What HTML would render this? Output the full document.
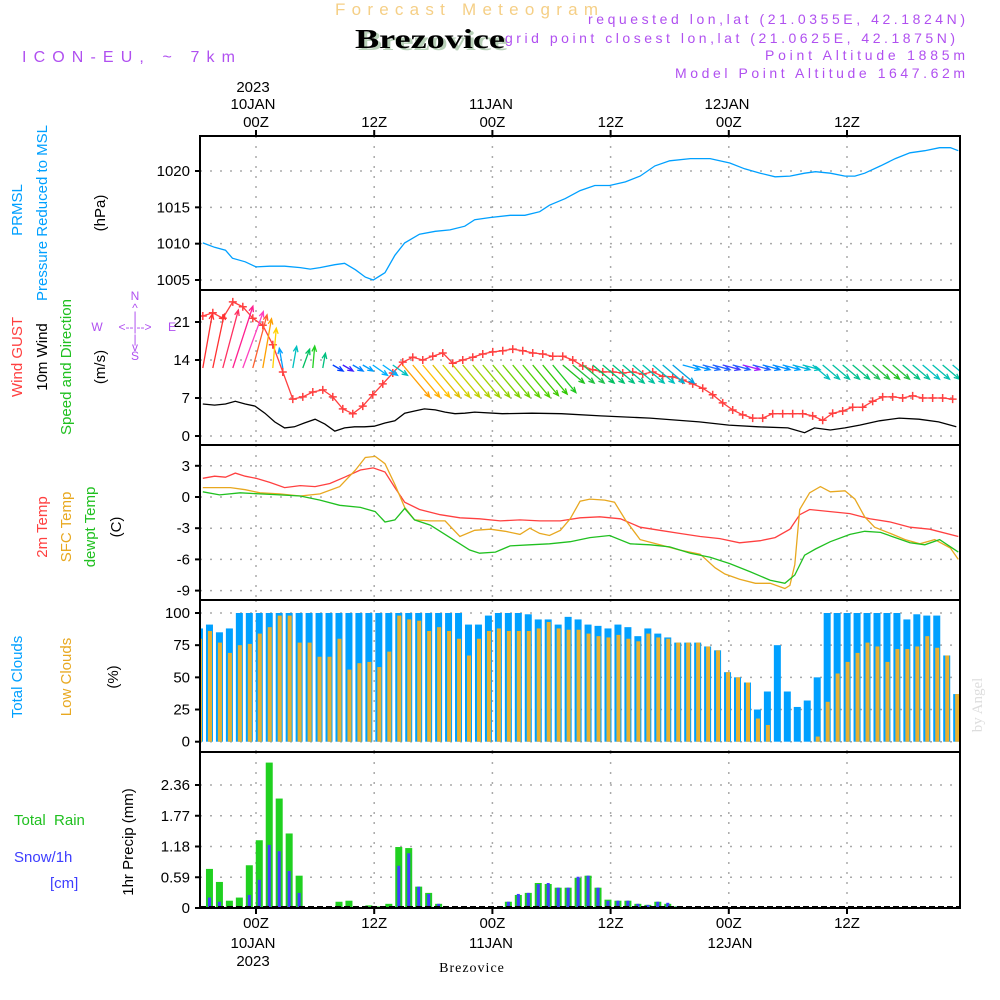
<!DOCTYPE html>
<html><head><meta charset="utf-8"><style>
html,body{margin:0;padding:0;background:#fff;}
svg{display:block;font-family:"Liberation Sans",sans-serif;}
</style></head><body>
<svg id="chart" width="1000" height="1000" viewBox="0 0 1000 1000" xmlns="http://www.w3.org/2000/svg">
<rect width="1000" height="1000" fill="#fff"/>
<text x="335" y="15" font-size="17" fill="#f5cf86" textLength="263" lengthAdjust="spacing">Forecast Meteogram</text>
<text x="358" y="50" font-size="27" font-weight="bold" font-family="Liberation Serif,serif" fill="#b8d0b8" textLength="150" lengthAdjust="spacingAndGlyphs">Brezovice</text>
<text x="355" y="48" font-size="27" font-weight="bold" font-family="Liberation Serif,serif" fill="#000" textLength="150" lengthAdjust="spacingAndGlyphs">Brezovice</text>
<g fill="#b050f0" font-size="14">
<text x="588" y="24" textLength="377" lengthAdjust="spacing">requested lon,lat (21.0355E, 42.1824N)</text>
<text x="505" y="43" textLength="450" lengthAdjust="spacing">grid point closest lon,lat (21.0625E, 42.1875N)</text>
<text x="765" y="60" textLength="200" lengthAdjust="spacing">Point Altitude 1885m</text>
<text x="675" y="78" textLength="290" lengthAdjust="spacing">Model Point Altitude 1647.62m</text>
</g>
<text x="22" y="62" font-size="16" fill="#b050f0" textLength="213" lengthAdjust="spacing">ICON-EU, ~ 7km</text>
<g id="plot"></g>
<g font-size="15" text-anchor="middle" fill="#000">
<text x="253" y="92">2023</text>
<text x="253" y="109">10JAN</text>
<text x="491" y="109">11JAN</text>
<text x="727" y="109">12JAN</text>
<text x="253" y="948">10JAN</text>
<text x="491" y="948">11JAN</text>
<text x="730" y="948">12JAN</text>
<text x="253" y="966">2023</text>
</g>
<text x="472" y="972" font-size="14" font-family="Liberation Serif,serif" text-anchor="middle" letter-spacing="1">Brezovice</text>
<g font-size="15">
<text transform="translate(22,210) rotate(-90)" fill="#00a0ff" text-anchor="middle">PRMSL</text>
<text transform="translate(47,213) rotate(-90)" fill="#00a0ff" text-anchor="middle">Pressure Reduced to MSL</text>
<text transform="translate(105,213) rotate(-90)" fill="#000" text-anchor="middle">(hPa)</text>
<text transform="translate(22,357) rotate(-90)" fill="#ff4040" text-anchor="middle">Wind GUST</text>
<text transform="translate(47,357) rotate(-90)" fill="#000" text-anchor="middle">10m Wind</text>
<text transform="translate(71,367) rotate(-90)" fill="#20c020" text-anchor="middle">Speed and Direction</text>
<text transform="translate(105,367) rotate(-90)" fill="#000" text-anchor="middle">(m/s)</text>
<text transform="translate(47,527) rotate(-90)" fill="#ff4040" text-anchor="middle">2m Temp</text>
<text transform="translate(71,527) rotate(-90)" fill="#e8a820" text-anchor="middle">SFC Temp</text>
<text transform="translate(95,527) rotate(-90)" fill="#20c020" text-anchor="middle">dewpt Temp</text>
<text transform="translate(121,527) rotate(-90)" fill="#000" text-anchor="middle">(C)</text>
<text transform="translate(22,677) rotate(-90)" fill="#00a0ff" text-anchor="middle">Total Clouds</text>
<text transform="translate(71,677) rotate(-90)" fill="#e8a820" text-anchor="middle">Low Clouds</text>
<text transform="translate(118,677) rotate(-90)" fill="#000" text-anchor="middle">(%)</text>
<text transform="translate(133,842) rotate(-90)" fill="#000" text-anchor="middle">1hr Precip (mm)</text>
<text x="14" y="825" fill="#20c020" xml:space="preserve">Total  Rain</text>
<text x="14" y="862" fill="#3d3dff">Snow/1h</text>
<text x="50" y="888" fill="#3d3dff">[cm]</text>
</g>
<g fill="#b050f0" font-size="12" text-anchor="middle">
<text x="135" y="300">N</text><text x="135" y="312">^</text><text x="135" y="320">|</text>
<text x="135" y="331">&lt;--|--&gt;</text>
<text x="97" y="331">W</text><text x="172" y="331">E</text>
<text x="135" y="343">|</text><text x="135" y="351">v</text><text x="135" y="360">S</text>
</g>
<text transform="translate(982,705) rotate(-90)" font-size="15" font-family="Liberation Serif,serif" fill="#ddd" text-anchor="middle">by Angel</text>
</svg>
<script>
// ---------- data ----------
const presHours=[-5.4,-4.2,-3.1,-2.4,-1.1,0,1.4,2.9,4.5,5.5,6.5,8.0,9.0,10.1,11.1,11.9,13.1,14.1,15.1,16.6,18.2,19.7,21.2,22.2,23.8,25.8,27.3,28.8,29.8,31.4,32.9,34.4,35.9,37.5,39.0,40.5,42.0,44.1,46.1,48.1,49.6,51.2,52.7,54.2,55.7,56.8,58.3,59.8,60.8,61.8,63.4,64.9,66.4,67.9,69.4,70.5,71.3];
const presVals=[1010.1,1009.5,1009.1,1008.0,1007.5,1006.8,1006.9,1006.9,1006.7,1006.5,1006.7,1007.1,1007.3,1006.4,1005.4,1005.0,1006.0,1008.4,1010.1,1011.3,1011.7,1011.9,1012.4,1013.3,1013.6,1013.9,1013.9,1014.4,1015.3,1016.2,1017.3,1018.0,1018.0,1018.5,1019.3,1020.7,1021.4,1021.7,1021.7,1021.1,1020.3,1019.7,1019.2,1019.3,1019.7,1019.9,1019.7,1019.3,1019.3,1019.7,1020.7,1021.7,1022.5,1022.8,1023.2,1023.2,1022.8];
const presTicks=[1005,1010,1015,1020];

const gustVals=[22.1,22.7,21.7,24.7,23.8,21.7,20.4,16.8,11.8,6.8,7.2,8.1,8.5,7.2,5.0,4.1,5.5,7.6,9.6,11.6,13.6,14.5,14.0,14.7,15.3,13.4,14.0,14.5,15.1,15.5,15.7,16.0,15.7,15.3,15.1,14.7,14.7,14.0,12.9,12.2,11.8,11.8,11.6,11.8,11.4,11.8,11.0,10.9,10.3,9.6,8.8,7.6,6.1,4.8,3.9,3.3,3.3,4.1,4.1,4.1,4.1,3.7,2.9,4.2,4.6,5.3,5.3,6.4,7.2,7.2,7.0,7.4,7.0,7.0,7.0,6.8];
const windHours=[-5.4,-4.2,-3.1,-2.1,-1.1,-0.1,0.9,1.9,2.9,3.9,4.9,6.0,7.0,8.0,9.0,10.0,11.0,12.0,13.1,14.1,15.1,16.1,17.1,18.2,19.2,20.2,21.2,22.2,25,28,31,35,40,45,48,51,54,55.7,56.7,58.3,59.8,61.3,63.3,65.3,67.3,69.3,71.1];
const windVals=[5.9,5.7,5.9,6.4,5.9,5.5,4.2,2.6,1.5,1.7,2.4,3.1,2.2,0.9,1.5,1.7,1.7,1.8,2.4,2.8,4.2,4.6,5.0,4.8,4.4,4.1,4.2,4.4,4.1,4.2,4.1,3.7,3.3,2.6,2.0,1.7,1.5,0.6,1.5,1.1,1.5,2.0,2.8,3.3,3.1,2.6,1.7];
const windTicks=[0,7,14,21];
const arrowAng=[80,78,75,72,70,75,80,85,100,80,70,85,80,-30,-30,-30,-30,-35,-35,-35,-50,-50,-50,-50,-50,-50,-50,-50,-50,-50,-50,-50,-50,-50,-50,-50,-40,-40,-40,-40,-40,-40,-40,-40,-40,-40,-40,-40,-15,-15,-15,-15,-15,-15,-15,-15,-15,-15,-15,-15,-15,-40,-40,-40,-40,-40,-40,-40,-40,-40,-40,-40,-40,-40,-40,-40,-40];
const arrowLen=[55,55,60,65,60,55,50,40,20,22,20,22,15,12,12,12,12,18,18,18,42,42,42,42,42,42,42,42,42,42,42,42,42,40,38,36,28,28,28,28,28,28,28,28,28,28,28,28,18,18,18,18,18,18,18,18,18,18,18,18,18,22,22,22,22,22,22,22,22,22,22,22,22,22,22,22,22];
const arrowCol=["#ff3030","#ff3030","#ff3060","#ff2090","#ff40c0","#ff6030","#ffa000","#ffd000","#00a0ff","#00c0c0","#00c060","#20d020","#00c080","#0040ff","#4020ff","#0080ff","#00a0ff","#00b0ff","#00b0ff","#00c0c0","#ffa000","#ffb000","#ffc000","#e0c000","#d0d000","#c0d000","#b0d000","#a0d000","#90d000","#80d000","#70d000","#60d000","#50d000","#40c800","#30c800","#20c820","#20c020","#20c040","#20c050","#00c060","#00c070","#00c080","#00c090","#00c0a0","#00c0b0","#00c0c0","#00b0d0","#00a0e0","#00a0ff","#0090ff","#2070ff","#2060ff","#4040ff","#2060ff","#a020ff","#2060ff","#0080ff","#0090ff","#00a0ff","#00b0e0","#00c0c0","#00c0c0","#00c0b0","#00c0a0","#00c090","#00c080","#20c060","#20c040","#20c020","#20c040","#00c080","#00c0a0","#00c0c0","#00c0b0","#00c0a0","#00c0c0","#00c0c0"];

const t2Hours=[-5.4,-4.2,-3.1,-2.1,-1.1,0,1.4,2.9,4.5,6.0,7.5,9.0,10.6,11.9,13.1,14.1,15.1,16.6,18.7,20.7,22.7,24.8,26.8,28.8,30.9,32.9,34.9,37.0,39.0,41.0,43.0,45.1,47.1,49.1,51.2,52.7,54.2,55.2,56.2,58.3,60.3,62.3,64.4,66.4,68.4,71.3];
const t2Vals=[1.8,2.0,1.9,2.3,2.0,1.8,1.4,0.9,1.1,1.0,1.3,1.9,2.6,2.8,2.4,0.9,-0.5,-1.2,-1.7,-2.0,-2.1,-2.3,-2.2,-2.3,-2.3,-2.0,-1.9,-2.1,-2.9,-3.2,-3.5,-3.8,-4.0,-4.4,-4.2,-3.9,-3.1,-1.7,-1.2,-1.4,-1.6,-2.1,-2.4,-2.9,-3.1,-3.8];
const sfcHours=[-5.4,-4.2,-2.6,-1.1,0.4,2.4,4.5,6.5,8.5,10.1,11.1,12.1,13.1,14.1,15.1,16.1,17.7,19.2,20.7,22.2,23.8,25.3,26.8,27.8,28.8,29.8,30.9,31.9,32.9,33.9,35.4,36.4,37.5,39.0,41.0,43.0,45.1,46.6,47.6,49.1,50.7,52.2,53.7,54.2,54.7,55.2,56.2,57.3,58.3,59.8,60.8,61.8,62.8,64.4,65.9,67.4,68.9,70.5,71.3];
const sfcVals=[0.9,0.9,0.9,0.7,0.4,0.3,0.1,0.3,1.0,2.6,3.8,3.9,3.2,1.2,-1.0,-2.2,-2.3,-2.3,-3.8,-3.2,-3.1,-3.3,-3.6,-3.0,-3.5,-3.7,-3.2,-2.1,-0.4,-0.2,-0.3,-0.5,-2.2,-4.1,-4.6,-5.1,-5.5,-6.8,-7.4,-7.9,-8.3,-8.3,-8.8,-8.5,-6.5,-1.2,0.4,1.0,0.5,0.6,-0.2,-1.9,-2.9,-3.5,-4.1,-4.5,-4.1,-4.9,-6.0];
const dewHours=[-5.4,-3.7,-1.6,0.4,2.4,4.5,6.5,8.5,10.6,12.1,13.1,14.1,15.1,16.1,17.7,19.7,21.7,22.7,24.3,25.8,27.8,29.8,31.9,33.9,35.9,38.0,40.0,42.0,44.1,46.1,48.1,50.2,52.2,53.7,54.7,55.7,56.8,58.3,60.3,61.8,63.4,64.9,66.4,67.9,69.4,71.3];
const dewVals=[0.5,0.2,0.4,0.3,0.2,0.1,-0.3,-0.8,-1.0,-1.4,-2.4,-2.2,-1.1,-2.2,-2.7,-3.9,-5.1,-5.4,-5.3,-4.7,-4.6,-4.5,-4.3,-3.9,-3.7,-4.5,-4.6,-4.8,-5.4,-5.8,-6.4,-7.2,-8.0,-8.3,-7.5,-5.6,-5.0,-4.3,-3.6,-3.3,-3.4,-3.9,-4.4,-4.6,-4.1,-5.3];
const tempTicks=[3,0,-3,-6,-9];

const totalClouds=[88,91,85,88,100,100,100,100,100,100,100,100,100,100,100,100,100,100,100,100,100,100,100,100,100,100,100,91,91,98,100,100,100,99,95,95,91,97,95,91,90,88,91,89,82,88,84,81,77,77,77,74,71,54,50,46,25,39,75,39,27,32,50,100,100,100,100,100,100,100,100,95,99,98,98,67,37];
const lowClouds=[80,86,77,69,75,76,84,89,98,98,77,77,66,66,80,56,61,62,58,70,98,95,94,86,89,86,80,67,80,86,88,86,86,86,88,93,88,87,87,84,82,81,83,80,78,84,81,80,77,77,77,74,71,54,50,46,18,13,0,0,0,0,4,31,53,62,69,77,74,62,72,72,74,82,73,67,37];
const cloudTicks=[0,25,50,75,100];

const rainTotal=[0,0.75,0.50,0.14,0.20,0.82,1.30,2.79,2.10,1.43,0.62,0,0,0,0.12,0.14,0,0.05,0.03,0.08,1.17,1.15,0.41,0.29,0.08,0.01,0,0,0,0,0,0.12,0.25,0.29,0.48,0.46,0.39,0.39,0.58,0.62,0.39,0.16,0.14,0.14,0.08,0.06,0.12,0.08,0.03,0.01,0,0,0,0,0,0,0,0,0,0,0,0,0,0,0,0,0,0,0,0,0,0,0,0,0,0,0];
const snowVals=[0,0.20,0.12,0.01,0.03,0.25,0.54,1.21,1.09,0.71,0.29,0,0,0,0,0,0,0,0,0,0.81,1.05,0.41,0.27,0.08,0.01,0,0,0,0,0,0.12,0.27,0.29,0.46,0.48,0.39,0.39,0.60,0.62,0.39,0.14,0.14,0.14,0.08,0.06,0.12,0.10,0.03,0.01,0,0,0,0,0,0,0,0,0,0,0,0,0,0,0,0,0,0,0,0,0,0,0,0,0,0,0];
const precipTicks=[0,0.59,1.18,1.77,2.36];

const gridHours=[0,12,24,36,48,60];
const gridLabels=["00Z","12Z","00Z","12Z","00Z","12Z"];

// ---------- scales ----------
const L=200,R=960;
const X=h=>256+h*9.85;
const BX=i=>199.5+i*9.963;
const lin=(d0,d1,r0,r1)=>v=>r0+(v-d0)*(r1-r0)/(d1-d0);
const yP=lin(1005,1020,280,171);
const yW=lin(0,21,436,322);
const yT=lin(0,-9,497,590.6);
const yC=lin(0,100,741.7,613);
const yR=lin(0,2.36,908,785);
const panels=[[136,290,"pressure"],[290,445,"wind"],[445,600,"temperature"],[600,752,"clouds"],[752,908,"precip"]];

const NS="http://www.w3.org/2000/svg";
const plot=document.getElementById('plot');
function mk(tag,attrs,parent){const e=document.createElementNS(NS,tag);for(const k in attrs)e.setAttribute(k,attrs[k]);(parent||plot).appendChild(e);return e;}

const defs=mk('defs',{});
const cp=mk('clipPath',{id:'clip'},defs);
mk('rect',{x:L,y:136,width:R-L,height:772},cp);

const grid=mk('g',{stroke:'#aaa','stroke-width':1.5,'stroke-dasharray':'2 8',fill:'none'});


panels.forEach(p=>gridHours.forEach(h=>mk('line',{x1:X(h),x2:X(h),y1:p[0],y2:p[1]},grid)));
function hgrid(ticks,sc,name){
  const g=mk('g',{'font-size':15,'text-anchor':'end',fill:'#000'});
  
  
  ticks.forEach(t=>{
    mk('line',{x1:L,x2:R,y1:sc(t),y2:sc(t),stroke:'#aaa','stroke-width':1.5,'stroke-dasharray':'2 8'},g);
    mk('line',{x1:L-5,x2:L,y1:sc(t),y2:sc(t),stroke:'#000','stroke-width':2},g);
    const tx=mk('text',{x:L-10,y:sc(t)+5},g);tx.textContent=String(t);
  });
}
hgrid(presTicks,yP,'pressure-y-axis');
hgrid(windTicks,yW,'wind-y-axis');
hgrid(tempTicks,yT,'temp-y-axis');
hgrid(cloudTicks,yC,'cloud-y-axis');
hgrid(precipTicks,yR,'precip-y-axis');

const data=mk('g',{'clip-path':'url(#clip)'});

totalClouds.forEach((v,i)=>{
  const r=mk('rect',{x:BX(i)-3.5,y:yC(v),width:7,height:yC(0)-yC(v),fill:'#00a0ff'},data);
  
  
});
lowClouds.forEach((v,i)=>{
  if(v<=0)return;
  const r=mk('rect',{x:BX(i)-1.5,y:yC(v),width:4,height:yC(0)-yC(v),fill:'#e8b030'},data);
  
  
});
rainTotal.forEach((v,i)=>{
  if(v<=0)return;
  const r=mk('rect',{x:BX(i)-3.5,y:yR(v),width:7,height:yR(0)-yR(v),fill:'#20d020'},data);
  
  
});
snowVals.forEach((v,i)=>{
  if(v<=0)return;
  const r=mk('rect',{x:BX(i)-1.5,y:yR(v),width:3,height:yR(0)-yR(v),fill:'#4040ff'},data);
  
  
});
mk('line',{x1:L,x2:R,y1:907,y2:907,stroke:'#000','stroke-width':2,'stroke-dasharray':'6 3'},data);

function line(hours,vals,sc,col,name){
  const d=hours.map((h,i)=>(i?'L':'M')+X(h).toFixed(1)+','+sc(vals[i]).toFixed(1)).join('');
  const p=mk('path',{d:d,fill:'none',stroke:col,'stroke-width':1.3},data);
  
  
}
line(presHours,presVals,yP,'#00a0ff','pressure-line');
line(windHours,windVals,yW,'#000','wind-line');
line(t2Hours,t2Vals,yT,'#ff4040','temp-2m-line');
line(sfcHours,sfcVals,yT,'#e8a820','sfc-temp-line');
line(dewHours,dewVals,yT,'#20c020','dewpoint-line');

const gustHours=gustVals.map((v,i)=>-5.4+i*1.015);
line(gustHours,gustVals,yW,'#ff4040','gust-line');
gustVals.forEach((v,i)=>{
  const x=X(gustHours[i]),y=yW(v);
  const m=mk('path',{d:`M${x-4},${y}h8M${x},${y-4}v8`,stroke:'#ff4040','stroke-width':1.5},data);
  
  
});
arrowAng.forEach((a,i)=>{
  const x0=X(-5.4+i*1.015), y0=(a>0?368:365);
  const rad=a*Math.PI/180, len=arrowLen[i];
  const x1=x0+Math.cos(rad)*len, y1=y0-Math.sin(rad)*len;
  const hb=rad+Math.PI;
  const hx1=x1+Math.cos(hb+0.4)*6, hy1=y1-Math.sin(hb+0.4)*6;
  const hx2=x1+Math.cos(hb-0.4)*6, hy2=y1-Math.sin(hb-0.4)*6;
  const p=mk('path',{d:`M${x0},${y0}L${x1},${y1}M${hx1},${hy1}L${x1},${y1}L${hx2},${hy2}`,stroke:arrowCol[i],'stroke-width':1.3,fill:'none'},data);
  
  
});

panels.forEach(p=>{
  const r=mk('rect',{x:L,y:p[0],width:R-L,height:p[1]-p[0],fill:'none',stroke:'#000','stroke-width':2});
  
  
});
const tl=mk('g',{'font-size':15,'text-anchor':'middle',fill:'#000'});


gridHours.forEach((h,i)=>{
  let t=mk('text',{x:X(h),y:127},tl);t.textContent=gridLabels[i];
  t=mk('text',{x:X(h),y:928},tl);t.textContent=gridLabels[i];
  mk('line',{x1:X(h),x2:X(h),y1:130,y2:136,stroke:'#000','stroke-width':2},tl);
  mk('line',{x1:X(h),x2:X(h),y1:908,y2:914,stroke:'#000','stroke-width':2},tl);
});
</script>
</body></html>
